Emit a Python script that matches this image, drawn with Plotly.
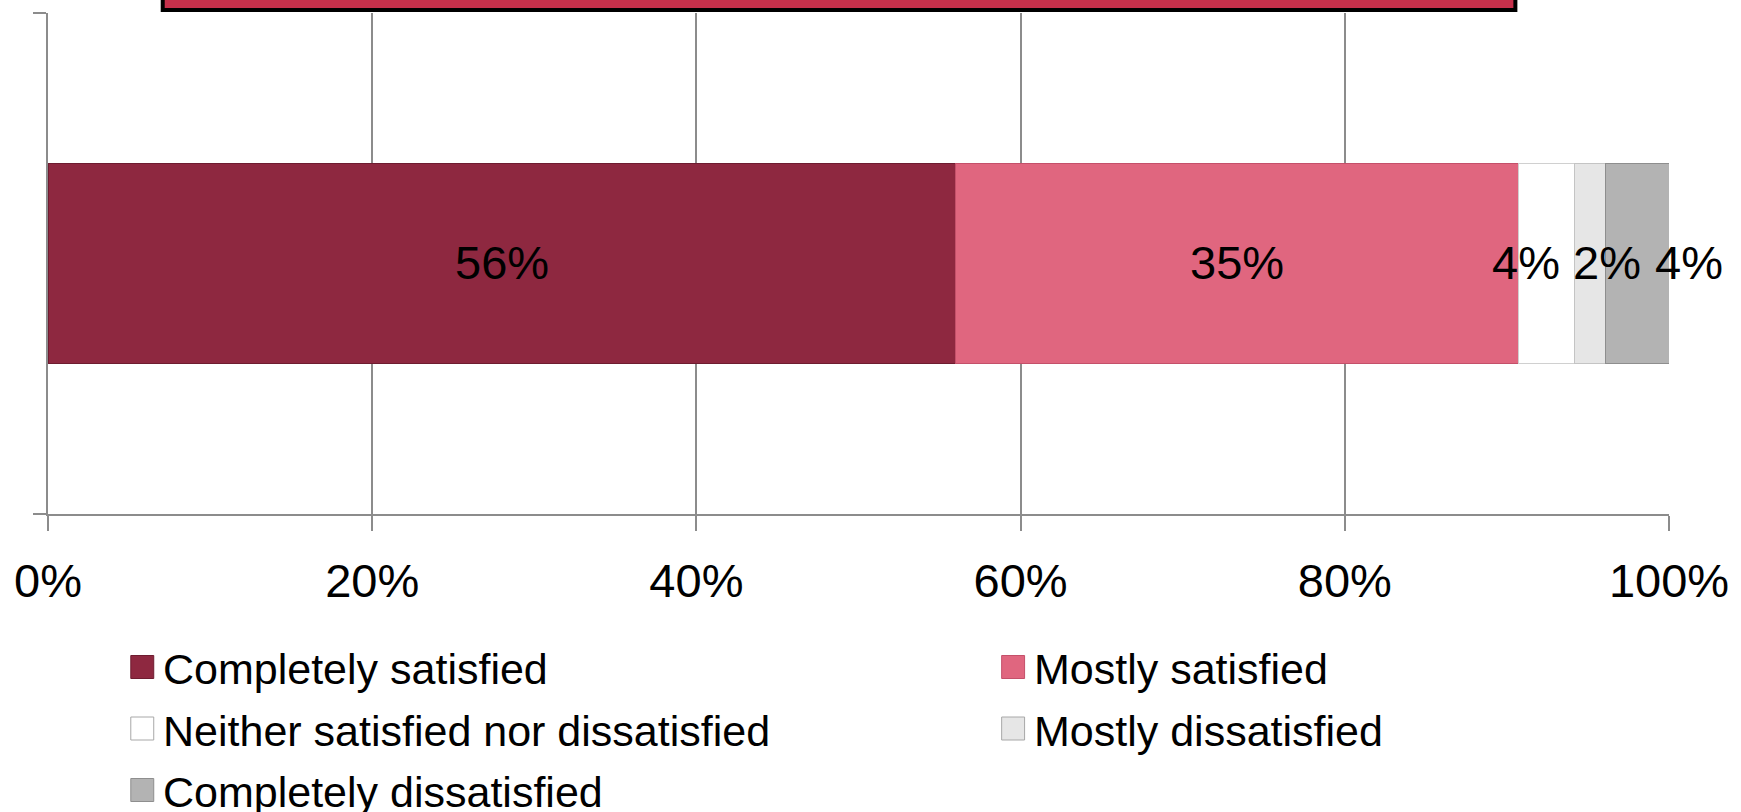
import plotly.graph_objects as go

# ---- data ----
categories = ["Completely satisfied", "Mostly satisfied",
              "Neither satisfied nor dissatisfied", "Mostly dissatisfied",
              "Completely dissatisfied"]
values = [56.0, 34.7, 3.5, 1.9, 3.9]
labels = [f"{round(v):d}%" for v in values]
tick_vals = [0, 20, 40, 60, 80, 100]
tick_text = ["0%", "20%", "40%", "60%", "80%", "100%"]

colors = ["#8E2840", "#E0667F", "#FFFFFF", "#E6E6E6", "#B3B3B3"]
edge_colors = ["#6E1C30", "#C4506A", "#D0D0D0", "#C4C4C4", "#8E8E8E"]

FONT = "Arial, Liberation Sans, sans-serif"

W, H = 1741, 812
PL, PT, PW, PH = 48, 13, 1625, 501          # plot box on screen
L = PL
T = PT
R = W - L - PW
B = H - T - PH


def px_x(px):
    return (px - PL) / PW


def px_y(py):
    return (PT + PH - py) / PH


fig = go.Figure()
for cat, v, c, ec in zip(categories, values, colors, edge_colors):
    fig.add_trace(go.Bar(
        y=[0], x=[v], name=cat, orientation="h", width=0.4,
        marker=dict(color=c, line=dict(color=ec, width=1)),
        showlegend=False, hoverinfo="name+x",
    ))

# value labels (centred on segments, small ones nudged apart)
shifts = [0, 0, -21, 17, 52]
cum = 0
annotations = []
for v, lab, s in zip(values, labels, shifts):
    annotations.append(dict(
        x=cum + v / 2, y=0, xref="x", yref="y", text=lab, showarrow=False,
        xshift=s, yshift=1, font=dict(family=FONT, size=47, color="black"),
    ))
    cum += v

# manual legend (2 columns)
shapes = []
col_px = [131, 1004]
row_py = [667, 728.5, 790]
for i, (cat, c, ec) in enumerate(zip(categories, colors, edge_colors)):
    cx = col_px[i % 2]
    cy = row_py[i // 2]
    shapes.append(dict(
        type="rect", xref="paper", yref="paper",
        x0=px_x(cx), x1=px_x(cx + 23), y0=px_y(cy + 11.5), y1=px_y(cy - 11.5),
        fillcolor=c, line=dict(color="#A8A8A8" if i in (2, 3) else ec, width=1),
    ))
    annotations.append(dict(
        x=px_x(cx + 30), y=px_y(cy + 2), xref="paper", yref="paper",
        xanchor="left", yanchor="middle", text=cat, showarrow=False,
        font=dict(family=FONT, size=43, color="black"),
    ))

# clipped title box at the top
shapes.append(dict(
    type="rect", xref="paper", yref="paper", ysizemode="pixel", yanchor=1,
    x0=px_x(163), x1=px_x(1519), y0=3, y1=80,
    fillcolor="#C5304B", line=dict(color="black", width=4),
))

fig.update_layout(
    width=W, height=H,
    margin=dict(l=L, r=R, t=T, b=B, pad=0),
    barmode="stack",
    plot_bgcolor="white", paper_bgcolor="white",
    font=dict(family=FONT, color="black"),
    xaxis=dict(
        range=[0, 100], tickvals=tick_vals, ticktext=tick_text,
        showgrid=True, gridcolor="#8C8C8C", gridwidth=1.5,
        showline=True, linecolor="#8C8C8C", linewidth=1.5,
        ticks="outside", ticklen=15, tickwidth=1.5, tickcolor="#8C8C8C",
        tickfont=dict(family=FONT, size=47, color="black"),
        ticklabelstandoff=10, zeroline=False, fixedrange=True,
    ),
    yaxis=dict(
        range=[-0.5, 0.5], tickvals=[-0.5, 0.5], showticklabels=False,
        showgrid=False, zeroline=False,
        showline=True, linecolor="#8C8C8C", linewidth=1.5,
        ticks="outside", ticklen=13, tickwidth=1.5, tickcolor="#8C8C8C",
        fixedrange=True,
    ),
    annotations=annotations,
    shapes=shapes,
)

fig.write_html("out.html",
               config={"displayModeBar": False},
               post_script="document.body.style.margin='0';"
                           "document.body.style.overflow='hidden';")
